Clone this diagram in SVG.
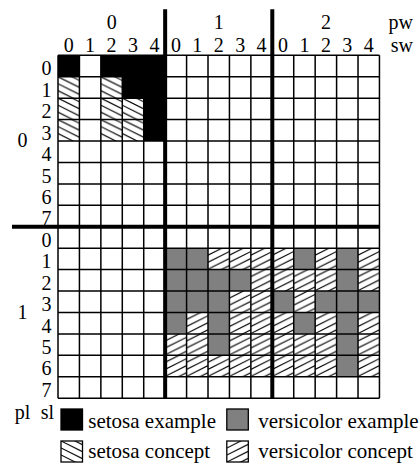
<svg xmlns="http://www.w3.org/2000/svg" width="420" height="464" viewBox="0 0 420 464">
<style>
text{font-family:"Liberation Serif","Times New Roman",serif;fill:#000}
.d{font-size:20px;text-anchor:middle}
.l{font-size:21px}
.blk{fill:#000}
.gry{fill:#808080}
.hs{fill:url(#hs)}
.hv{fill:url(#hv)}
.grid{stroke:#000;stroke-width:1.5;fill:none}
.thick{stroke:#000;stroke-width:4;fill:none}
.box{stroke:#000;stroke-width:1.3}
</style>
<defs>
<pattern id="hs" patternUnits="objectBoundingBox" x="0" y="0" width="1" height="1">
<rect width="22" height="22" fill="#fff"/>
<path d="M0,-7 L21.43,3.7 M0,0 L21.43,10.7 M0,7 L21.43,17.7 M0,14 L21.43,24.7" stroke="#000" stroke-width="1.1"/>
</pattern>
<pattern id="hv" patternUnits="objectBoundingBox" x="0" y="0" width="1" height="1">
<rect width="22" height="22" fill="#fff"/>
<path d="M0,7 L21.43,-3.7 M0,14 L21.43,3.3 M0,21 L21.43,10.3 M0,28 L21.43,17.3" stroke="#000" stroke-width="1.1"/>
</pattern>
</defs>
<rect width="420" height="464" fill="#fff"/>

<g id="cells" transform="translate(58,55.3)">
<g id="setosa-examples" class="blk">
<rect x="0" y="0" width="21.43" height="21.43"/>
<rect x="42.86" y="0" width="21.43" height="21.43"/>
<rect x="64.29" y="0" width="21.43" height="21.43"/>
<rect x="85.72" y="0" width="21.43" height="21.43"/>
<rect x="64.29" y="21.43" width="21.43" height="21.43"/>
<rect x="85.72" y="21.43" width="21.43" height="21.43"/>
<rect x="85.72" y="42.86" width="21.43" height="21.43"/>
<rect x="85.72" y="64.29" width="21.43" height="21.43"/>
</g>
<g id="setosa-concept" class="hs">
<rect x="0" y="21.43" width="21.43" height="21.43"/>
<rect x="42.86" y="21.43" width="21.43" height="21.43"/>
<rect x="0" y="42.86" width="21.43" height="21.43"/>
<rect x="42.86" y="42.86" width="21.43" height="21.43"/>
<rect x="64.29" y="42.86" width="21.43" height="21.43"/>
<rect x="0" y="64.29" width="21.43" height="21.43"/>
<rect x="42.86" y="64.29" width="21.43" height="21.43"/>
<rect x="64.29" y="64.29" width="21.43" height="21.43"/>
</g>
<g id="versicolor-examples" class="gry">
<rect x="107.15" y="192.87" width="21.43" height="21.43"/>
<rect x="128.58" y="192.87" width="21.43" height="21.43"/>
<rect x="235.73" y="192.87" width="21.43" height="21.43"/>
<rect x="278.59" y="192.87" width="21.43" height="21.43"/>
<rect x="107.15" y="214.3" width="21.43" height="21.43"/>
<rect x="128.58" y="214.3" width="21.43" height="21.43"/>
<rect x="150.01" y="214.3" width="21.43" height="21.43"/>
<rect x="171.44" y="214.3" width="21.43" height="21.43"/>
<rect x="278.59" y="214.3" width="21.43" height="21.43"/>
<rect x="107.15" y="235.73" width="21.43" height="21.43"/>
<rect x="128.58" y="235.73" width="21.43" height="21.43"/>
<rect x="150.01" y="235.73" width="21.43" height="21.43"/>
<rect x="214.3" y="235.73" width="21.43" height="21.43"/>
<rect x="257.16" y="235.73" width="21.43" height="21.43"/>
<rect x="278.59" y="235.73" width="21.43" height="21.43"/>
<rect x="300.02" y="235.73" width="21.43" height="21.43"/>
<rect x="107.15" y="257.16" width="21.43" height="21.43"/>
<rect x="150.01" y="257.16" width="21.43" height="21.43"/>
<rect x="235.73" y="257.16" width="21.43" height="21.43"/>
<rect x="278.59" y="257.16" width="21.43" height="21.43"/>
<rect x="150.01" y="278.59" width="21.43" height="21.43"/>
<rect x="278.59" y="278.59" width="21.43" height="21.43"/>
<rect x="278.59" y="300.02" width="21.43" height="21.43"/>
</g>
<g id="versicolor-concept" class="hv">
<rect x="150.01" y="192.87" width="21.43" height="21.43"/>
<rect x="171.44" y="192.87" width="21.43" height="21.43"/>
<rect x="192.87" y="192.87" width="21.43" height="21.43"/>
<rect x="214.3" y="192.87" width="21.43" height="21.43"/>
<rect x="257.16" y="192.87" width="21.43" height="21.43"/>
<rect x="300.02" y="192.87" width="21.43" height="21.43"/>
<rect x="192.87" y="214.3" width="21.43" height="21.43"/>
<rect x="214.3" y="214.3" width="21.43" height="21.43"/>
<rect x="235.73" y="214.3" width="21.43" height="21.43"/>
<rect x="257.16" y="214.3" width="21.43" height="21.43"/>
<rect x="300.02" y="214.3" width="21.43" height="21.43"/>
<rect x="171.44" y="235.73" width="21.43" height="21.43"/>
<rect x="192.87" y="235.73" width="21.43" height="21.43"/>
<rect x="235.73" y="235.73" width="21.43" height="21.43"/>
<rect x="128.58" y="257.16" width="21.43" height="21.43"/>
<rect x="171.44" y="257.16" width="21.43" height="21.43"/>
<rect x="192.87" y="257.16" width="21.43" height="21.43"/>
<rect x="214.3" y="257.16" width="21.43" height="21.43"/>
<rect x="257.16" y="257.16" width="21.43" height="21.43"/>
<rect x="300.02" y="257.16" width="21.43" height="21.43"/>
<rect x="107.15" y="278.59" width="21.43" height="21.43"/>
<rect x="128.58" y="278.59" width="21.43" height="21.43"/>
<rect x="171.44" y="278.59" width="21.43" height="21.43"/>
<rect x="192.87" y="278.59" width="21.43" height="21.43"/>
<rect x="214.3" y="278.59" width="21.43" height="21.43"/>
<rect x="235.73" y="278.59" width="21.43" height="21.43"/>
<rect x="257.16" y="278.59" width="21.43" height="21.43"/>
<rect x="300.02" y="278.59" width="21.43" height="21.43"/>
<rect x="107.15" y="300.02" width="21.43" height="21.43"/>
<rect x="128.58" y="300.02" width="21.43" height="21.43"/>
<rect x="150.01" y="300.02" width="21.43" height="21.43"/>
<rect x="171.44" y="300.02" width="21.43" height="21.43"/>
<rect x="192.87" y="300.02" width="21.43" height="21.43"/>
<rect x="214.3" y="300.02" width="21.43" height="21.43"/>
<rect x="235.73" y="300.02" width="21.43" height="21.43"/>
<rect x="257.16" y="300.02" width="21.43" height="21.43"/>
<rect x="300.02" y="300.02" width="21.43" height="21.43"/>
</g>
<path id="grid" class="grid" d="M0,0V342.88 M21.43,0V342.88 M42.86,0V342.88 M64.29,0V342.88 M85.72,0V342.88 M107.15,0V342.88 M128.58,0V342.88 M150.01,0V342.88 M171.44,0V342.88 M192.87,0V342.88 M214.3,0V342.88 M235.73,0V342.88 M257.16,0V342.88 M278.59,0V342.88 M300.02,0V342.88 M321.45,0V342.88 M0,0H321.45 M0,21.43H321.45 M0,42.86H321.45 M0,64.29H321.45 M0,85.72H321.45 M0,107.15H321.45 M0,128.58H321.45 M0,150.01H321.45 M0,171.44H321.45 M0,192.87H321.45 M0,214.3H321.45 M0,235.73H321.45 M0,257.16H321.45 M0,278.59H321.45 M0,300.02H321.45 M0,321.45H321.45 M0,342.88H321.45"/>
</g>

<g id="dividers" class="thick">
<path d="M165.15,9.3V398.2 M272.3,9.3V398.2 M12,226.74H379.45"/>
</g>

<g id="col-labels" class="d">
<text x="111.7" y="29.3">0</text>
<text x="218.7" y="29.3">1</text>
<text x="325.9" y="29.3">2</text>
<text x="68.7" y="51.7">0</text><text x="90.1" y="51.7">1</text><text x="111.6" y="51.7">2</text><text x="133" y="51.7">3</text><text x="154.4" y="51.7">4</text>
<text x="175.9" y="51.7">0</text><text x="197.3" y="51.7">1</text><text x="218.7" y="51.7">2</text><text x="240.2" y="51.7">3</text><text x="261.6" y="51.7">4</text>
<text x="283" y="51.7">0</text><text x="304.4" y="51.7">1</text><text x="325.9" y="51.7">2</text><text x="347.3" y="51.7">3</text><text x="368.7" y="51.7">4</text>
</g>
<g id="axis-names" class="d" style="text-anchor:end">
<text x="413" y="29">pw</text>
<text x="413" y="51.7">sw</text>
</g>
<g id="row-labels" class="d">
<text x="22.5" y="147">0</text>
<text x="22.5" y="319">1</text>
<text x="46.5" y="75.3">0</text><text x="46.5" y="96.7">1</text><text x="46.5" y="118.2">2</text><text x="46.5" y="139.6">3</text>
<text x="46.5" y="161">4</text><text x="46.5" y="182.5">5</text><text x="46.5" y="203.9">6</text><text x="46.5" y="225.3">7</text>
<text x="46.5" y="246.7">0</text><text x="46.5" y="268.2">1</text><text x="46.5" y="289.6">2</text><text x="46.5" y="311">3</text>
<text x="46.5" y="332.5">4</text><text x="46.5" y="353.9">5</text><text x="46.5" y="375.3">6</text><text x="46.5" y="396.7">7</text>
</g>

<g id="legend">
<text class="d" x="22.5" y="419">pl</text>
<text class="d" x="47.5" y="419">sl</text>
<g id="leg-setosa-example"><rect class="blk box" x="61" y="409" width="21.5" height="21"/><text class="l" x="88.3" y="428.3">setosa example</text></g>
<g id="leg-versicolor-example"><rect class="gry box" x="226.8" y="409" width="21.5" height="21"/><text class="l" x="258.3" y="428.3">versicolor example</text></g>
<g id="leg-setosa-concept"><rect class="hs box" x="61" y="441" width="21.5" height="21"/><text class="l" x="88.3" y="458">setosa concept</text></g>
<g id="leg-versicolor-concept"><rect class="hv box" x="226.8" y="441" width="21.5" height="21"/><text class="l" x="258.3" y="458">versicolor concept</text></g>
</g>
</svg>
